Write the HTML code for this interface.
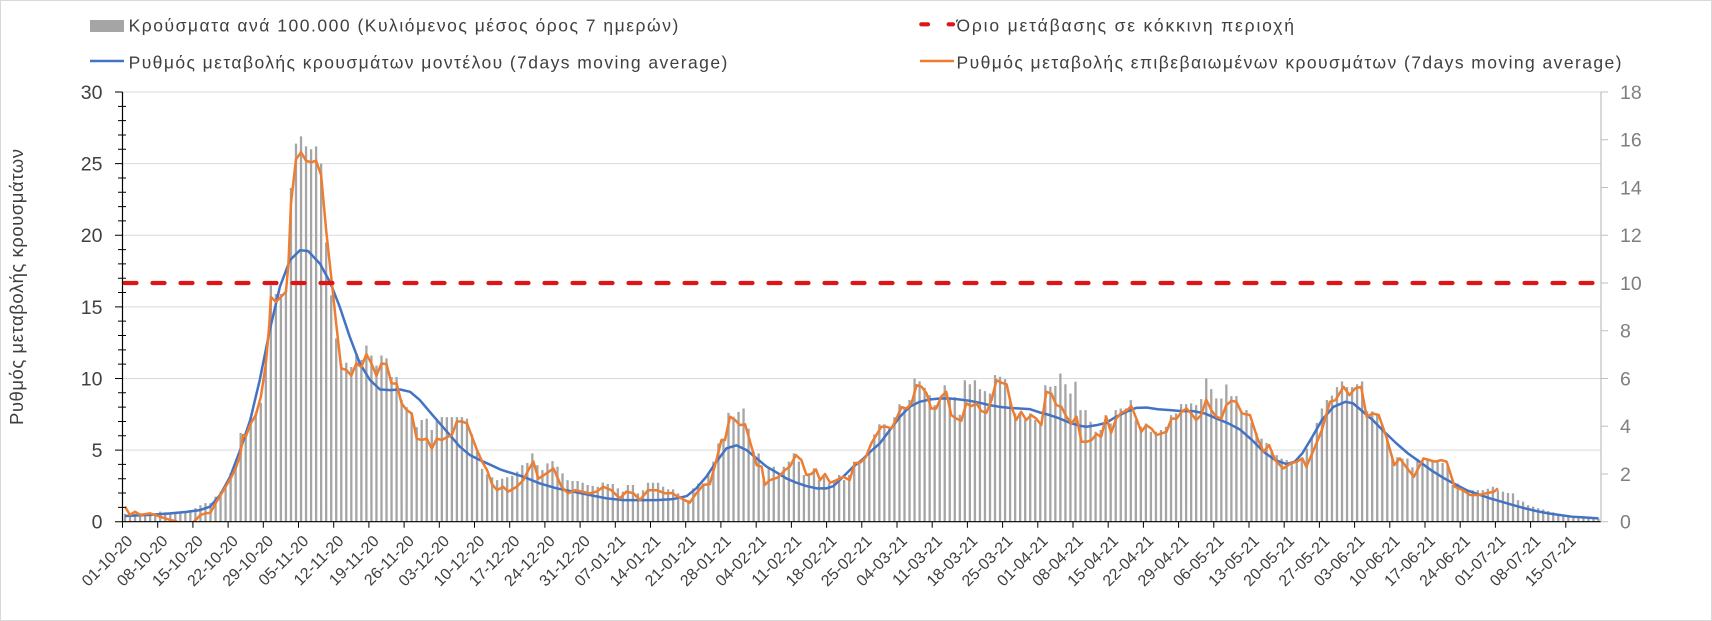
<!DOCTYPE html>
<html><head><meta charset="utf-8"><style>
html,body{margin:0;padding:0;background:#fff;}
svg{display:block;}
text{font-family:"Liberation Sans","DejaVu Sans",sans-serif;}
</style></head><body>
<svg width="1712" height="621" viewBox="0 0 1712 621" xmlns="http://www.w3.org/2000/svg">
<rect x="0.5" y="0.5" width="1711" height="620" fill="#fff" stroke="#d9d9d9" stroke-width="1"/>
<defs><clipPath id="pc"><rect x="122.5" y="88" width="1479" height="433.7"/></clipPath></defs>

<!-- gridlines -->
<g stroke="#d9d9d9" stroke-width="1">
<line x1="122.5" x2="1601" y1="450.1" y2="450.1"/>
<line x1="122.5" x2="1601" y1="378.5" y2="378.5"/>
<line x1="122.5" x2="1601" y1="306.9" y2="306.9"/>
<line x1="122.5" x2="1601" y1="235.2" y2="235.2"/>
<line x1="122.5" x2="1601" y1="163.6" y2="163.6"/>
<line x1="122.5" x2="1601" y1="92" y2="92"/>
</g>

<g clip-path="url(#pc)">
<g transform="translate(125 521.7) scale(5.029 -14.323)">
<path fill="none" stroke="#a5a5a5" stroke-width="2.3" vector-effect="non-scaling-stroke" d="M0 0V.55M1 0V.5M2 0V.55M3 0V.6M4 0V.6M5 0V.65M6 0V.6M7 0V.7M8 0V.65M9 0V.6M10 0V.65M11 0V.7M12 0V.75M13 0V.8M14 0V.95M15 0V1.15M16 0V1.3M17 0V1.3M18 0V1.75M19 0V2.1M20 0V2.6M21 0V3.4M22 0V3.9M23 0V6.2M24 0V6.1M25 0V7.2M26 0V7.6M27 0V8.3M28 0V11.5M29 0V16.5M30 0V15.9M31 0V15.9M32 0V16.2M33 0V23.3M34 0V26.4M35 0V26.9M36 0V26.2M37 0V26M38 0V26.2M39 0V25M40 0V19.5M41 0V15.8M42 0V12.8M43 0V11M44 0V11.1M45 0V10.8M46 0V11.6M47 0V11.3M48 0V12.3M49 0V11.6M50 0V10.9M51 0V11.6M52 0V11.4M53 0V10.1M54 0V10.1M55 0V8.5M56 0V8M57 0V7.6M58 0V6.6M59 0V7.1M60 0V7.2M61 0V6.4M62 0V7.1M63 0V7.3M64 0V7.3M65 0V7.3M66 0V7.3M67 0V7.3M68 0V7.2M69 0V6.1M70 0V5M71 0V3.7M72 0V3.3M73 0V3.1M74 0V2.9M75 0V3M76 0V3.1M77 0V3.2M78 0V3.5M79 0V3.95M80 0V4.1M81 0V4.77M82 0V3.95M83 0V3.6M84 0V4.07M85 0V4.23M86 0V3.84M87 0V3.37M88 0V2.9M89 0V2.84M90 0V2.84M91 0V2.72M92 0V2.56M93 0V2.49M94 0V2.44M95 0V2.74M96 0V2.63M97 0V2.63M98 0V2.33M99 0V2.1M100 0V2.56M101 0V2.56M102 0V1.98M103 0V2.2M104 0V2.72M105 0V2.72M106 0V2.72M107 0V2.44M108 0V2.26M109 0V2.26M110 0V1.98M111 0V1.5M112 0V1.5M113 0V2.33M114 0V2.67M115 0V2.67M116 0V3.37M117 0V4.19M118 0V5.47M119 0V5.81M120 0V7.6M121 0V7.33M122 0V7.67M123 0V7.9M124 0V6.5M125 0V4.88M126 0V4.77M127 0V3.14M128 0V3.72M129 0V3.84M130 0V3.37M131 0V3.84M132 0V4.19M133 0V4.77M134 0V4.19M135 0V3.26M136 0V3.26M137 0V3.72M138 0V2.9M139 0V3.14M140 0V2.67M141 0V2.9M142 0V3.26M143 0V2.9M144 0V3.26M145 0V4.19M146 0V4.19M147 0V4.42M148 0V4.77M149 0V6.1M150 0V6.8M151 0V6.8M152 0V6.6M153 0V7.3M154 0V8.2M155 0V8M156 0V8.5M157 0V10M158 0V9.8M159 0V9.35M160 0V8.84M161 0V8.14M162 0V8.6M163 0V9.53M164 0V8.6M165 0V8.7M166 0V7.47M167 0V9.88M168 0V9.6M169 0V9.88M170 0V9.26M171 0V9.12M172 0V8.95M173 0V10.23M174 0V10.12M175 0V9.95M176 0V8.6M177 0V7.56M178 0V7.56M179 0V7.1M180 0V7.56M181 0V7.1M182 0V6.74M183 0V9.53M184 0V9.42M185 0V9.47M186 0V10.35M187 0V9.6M188 0V8.95M189 0V9.77M190 0V7.79M191 0V7.79M192 0V6.98M193 0V6.28M194 0V6.4M195 0V7.44M196 0V6.86M197 0V7.79M198 0V7.9M199 0V7.9M200 0V8.49M201 0V7.09M202 0V6.63M203 0V6.86M204 0V6.28M205 0V6.28M206 0V6.4M207 0V6.63M208 0V7.44M209 0V7.56M210 0V8.21M211 0V8.21M212 0V8.26M213 0V8.14M214 0V8.56M215 0V10M216 0V9.26M217 0V8.6M218 0V8.6M219 0V9.58M220 0V8.77M221 0V8.77M222 0V7.7M223 0V7.8M224 0V6.9M225 0V6.2M226 0V5.8M227 0V5.5M228 0V5M229 0V4.65M230 0V4.4M231 0V4.3M232 0V4.2M233 0V4.25M234 0V4.3M235 0V5.1M236 0V5.9M237 0V6.9M238 0V7.9M239 0V8.5M240 0V8.8M241 0V9.4M242 0V9.8M243 0V9.4M244 0V9.4M245 0V9.6M246 0V9.8M247 0V7.7M248 0V7.7M249 0V7.56M250 0V6.8M251 0V5.8M252 0V4.5M253 0V4.5M254 0V4.4M255 0V4.4M256 0V3.8M257 0V4.4M258 0V4.3M259 0V4.3M260 0V4.25M261 0V4.2M262 0V4.1M263 0V3.95M264 0V2.56M265 0V2.67M266 0V2.33M267 0V2.2M268 0V2.2M269 0V2.2M270 0V2.2M271 0V2.3M272 0V2.44M273 0V2.2M274 0V2.1M275 0V2M276 0V1.98M277 0V1.51M278 0V1.4M279 0V1.16M280 0V1.05M281 0V.95M282 0V.85M283 0V.75M284 0V.65M285 0V.55M286 0V.5M287 0V.45M288 0V.4M289 0V.35M290 0V.3M291 0V.28M292 0V.25M293 0V.22"/>
<polyline fill="none" stroke="#4472c4" stroke-width="2.5" stroke-linejoin="round" vector-effect="non-scaling-stroke" points="0,0.4 5,0.48 9,0.58 12,0.68 14.9,0.81 16.9,1.05 18.9,1.86 20.9,3.14 22.9,5.0 24.9,7.1 26.8,9.9 28.8,13.4 30.8,16.4 32.8,18.26 34.8,18.95 36.4,18.9 38.8,18.0 40.8,16.7 42.7,15.0 44.7,12.9 46.7,11.05 48.7,9.9 50.7,9.23 52.7,9.19 54.7,9.23 56.7,9.07 58.6,8.5 60.6,7.67 62.6,6.86 64.6,6.05 66.6,5.23 68.6,4.65 70.6,4.3 72.6,3.98 74.6,3.65 75.9,3.5 79.2,3.14 82.5,2.67 85.8,2.33 89.1,2.1 92.4,1.86 95.8,1.63 99.1,1.51 102.4,1.51 105.7,1.51 109,1.58 111.7,1.79 113.6,2.33 115.6,3.14 117.6,4.19 119.6,5.12 121.6,5.33 123.6,5.0 125.6,4.42 127.6,3.84 129.9,3.37 131.5,3.02 133.5,2.72 135.5,2.49 137.5,2.33 139.5,2.33 140.9,2.49 142.8,3.14 144.8,3.84 146.5,4.3 148.1,4.85 150.1,5.47 152.1,6.4 154.1,7.33 156,8.02 158,8.37 160,8.53 162,8.6 164,8.6 166,8.53 168,8.44 170,8.3 171.9,8.14 173.9,8.02 175.9,7.95 177.9,7.9 179.9,7.86 181.9,7.63 183.9,7.44 185.9,7.2 187.9,6.9 189.8,6.7 191.2,6.63 193.2,6.74 195.1,6.9 197.1,7.33 199.1,7.67 201.1,7.95 203.1,7.97 205.4,7.85 207.8,7.79 210.1,7.72 212.4,7.72 214.7,7.56 217.1,7.2 219.4,6.86 221.7,6.44 224.1,5.7 226.4,4.88 228.7,4.3 231,4.02 232.6,4.19 234.1,4.77 236.1,5.93 238,7.1 240.3,8.02 242.7,8.37 244.2,8.26 245.8,7.79 248.1,7.1 250.4,6.28 252.8,5.47 255.1,4.77 257.4,4.19 259.7,3.6 262.1,3.07 264.4,2.63 266.7,2.21 269.1,1.91 271.4,1.63 273.7,1.4 276,1.16 278.4,0.93 280.7,0.74 283,0.58 285.3,0.47 287.7,0.35 290,0.3 293,0.23"/>
<polyline fill="none" stroke="#ed7d31" stroke-width="2.5" stroke-linejoin="round" vector-effect="non-scaling-stroke" points="0,1.05 1,0.47 2,0.7 3,0.47 4,0.53 5,0.58 6,0.47 7,0.35 8,0.23 9,0.12 10,0.05 11,-0.1 12,-0.2 13,-0.2 14,0.1 15,0.47 16,0.58 17,0.63 18,1.28 19,1.86 20,2.44 21,3.02 22,3.72 22.9,4.65 23.5,6.05 24,5.93 25,6.86 26,7.44 27,8.7 28,11.0 28.7,13.8 29,15.7 30,15.35 31,15.7 32,16.05 32.5,18 33,22.2 34,25.3 35,25.8 36,25.2 37,25.1 38,25.2 39,24.2 40,20.35 41,17.1 42,13.8 43,10.7 44,10.6 45,10.2 46,11.05 47,10.8 48,11.7 49,11.05 50,10.2 51,11.05 52,11.0 53,9.65 54,9.65 55,8.26 56,7.8 57,7.56 58,5.8 59,5.7 60,5.8 61,5.1 62,5.8 63,5.7 64,5.9 65,6.05 66,7.0 67,7.0 68,6.86 69,5.93 70,5.0 71,4.2 72,3.6 73,2.6 74,2.2 75.2,2.44 76.2,2.1 77.9,2.44 79.2,2.9 80.2,3.6 81.2,4.2 82.2,3.0 83.8,3.37 85.2,3.72 86.8,2.44 88.1,1.98 89.5,2.2 90.8,2.1 92.4,1.98 93.8,2.1 95.1,2.44 96.7,2.2 98.4,1.63 99.7,2.1 101.1,1.98 102.4,1.51 104,2.2 105.7,2.2 107.4,1.98 108.7,2.0 110,1.74 111.3,1.51 112.3,1.33 113.6,1.98 115,2.56 116.3,2.63 117.6,4.3 118.6,5.7 119.3,5.7 120.3,7.33 121.3,7.1 122.3,6.74 123.3,6.8 124.2,5.7 125.6,3.95 126.6,3.84 127.2,2.56 128.2,2.9 129.9,3.1 131.2,3.6 132.2,3.84 133.4,4.65 134.5,4.3 135.5,3.26 136.5,3.33 137.4,3.65 138.2,2.9 139.2,3.33 140.2,2.72 141.5,2.9 142.8,3.14 144.1,2.9 145.1,4.07 146.3,4.15 147.3,4.5 148.4,5.47 149.4,6.05 150.4,6.63 151.4,6.63 152.4,6.5 153.4,7.2 154.4,8.0 155.4,7.9 156.4,8.26 157.4,9.53 158.4,9.42 159.4,8.95 160.3,7.9 161.3,7.9 162.3,8.72 163.3,9.07 164.3,7.44 165.3,7.2 166.3,7.05 167.3,8.26 168.3,8.07 169.3,8.26 170.3,7.72 171.3,7.6 172.3,8.49 173.3,9.88 174.3,9.7 175.3,9.6 176.3,8.02 177.2,7.1 178.2,7.67 179.2,7.1 180.2,7.44 181.2,7.2 182.2,6.74 183.2,9.07 184.2,8.95 185.2,8.14 186.2,8.02 187.2,7.33 188.2,6.86 189.2,7.33 190.2,5.58 191.2,5.58 192.2,5.7 193.2,6.12 194.1,5.93 195.1,7.33 196.1,6.2 197.1,7.2 198.1,7.6 199.1,7.74 200.1,8.07 201.1,7.2 202.1,6.28 203.1,6.74 204.1,6.5 205.1,6.05 206.1,6.16 207.1,6.28 208.1,7.2 209.1,7.2 210.1,7.67 211.1,7.9 212,7.56 213,7.1 214,7.44 215,8.53 216,7.79 217,7.33 218,7.2 219,8.14 220,8.44 221,8.37 222.1,7.56 223.7,7.44 225.2,5.81 226.4,4.88 227.5,5.35 228.7,4.3 230.3,3.72 231.8,4.07 233,4.19 234.1,4.42 234.9,3.84 236.5,5.12 238,6.4 239.6,8.37 240.7,8.49 242.3,9.42 243.5,8.84 244.6,9.3 245.8,9.42 246.9,7.33 248.1,7.56 249.3,7.44 250.8,5.93 252.4,3.95 253.5,4.42 254.7,3.84 256.3,3.14 258.2,4.42 259.4,4.3 260.5,4.19 261.7,4.3 262.8,4.19 264.4,2.44 266,2.21 267.5,1.86 269.1,1.86 270.6,1.98 272.2,2.09 273,2.33"/>
</g>
</g>

<!-- red threshold -->
<line x1="124.5" x2="1597" y1="283" y2="283" stroke="#dd1515" stroke-width="4.2" stroke-dasharray="12 16" stroke-linecap="round"/>

<!-- axes -->
<line x1="122.5" x2="1601" y1="521.7" y2="521.7" stroke="#000" stroke-width="1.2"/>
<line x1="122.5" x2="122.5" y1="92" y2="521.7" stroke="#000" stroke-width="1.2"/>
<line x1="1601" x2="1601" y1="92" y2="521.7" stroke="#bfbfbf" stroke-width="1.2"/>
<g transform="translate(0 521.7) scale(1 -14.323)">
<path fill="none" stroke="#000" stroke-width="1" vector-effect="non-scaling-stroke" d="M118 1H126M118 2H126M118 3H126M118 4H126M118 6H126M118 7H126M118 8H126M118 9H126M118 11H126M118 12H126M118 13H126M118 14H126M118 16H126M118 17H126M118 18H126M118 19H126M118 21H126M118 22H126M118 23H126M118 24H126M118 26H126M118 27H126M118 28H126M118 29H126M115 0H122.5M115 5H122.5M115 10H122.5M115 15H122.5M115 20H122.5M115 25H122.5M115 30H122.5"/>
</g>
<g transform="translate(0 521.7) scale(1 -23.872)">
<path fill="none" stroke="#bfbfbf" stroke-width="1" vector-effect="non-scaling-stroke" d="M1601 0H1608M1601 2H1608M1601 4H1608M1601 6H1608M1601 8H1608M1601 10H1608M1601 12H1608M1601 14H1608M1601 16H1608M1601 18H1608"/>
</g>
<path fill="none" stroke="#000" stroke-width="1" d="M122.5 521.7v6M157.7 521.7v6M192.9 521.7v6M228.1 521.7v6M263.3 521.7v6M298.5 521.7v6M333.7 521.7v6M368.9 521.7v6M404.1 521.7v6M439.3 521.7v6M474.5 521.7v6M509.7 521.7v6M544.9 521.7v6M580.1 521.7v6M615.3 521.7v6M650.5 521.7v6M685.7 521.7v6M720.9 521.7v6M756.2 521.7v6M791.4 521.7v6M826.6 521.7v6M861.8 521.7v6M897 521.7v6M932.2 521.7v6M967.4 521.7v6M1002.6 521.7v6M1037.8 521.7v6M1073 521.7v6M1108.2 521.7v6M1143.4 521.7v6M1178.6 521.7v6M1213.8 521.7v6M1249 521.7v6M1284.2 521.7v6M1319.4 521.7v6M1354.6 521.7v6M1389.8 521.7v6M1425 521.7v6M1460.2 521.7v6M1495.4 521.7v6M1530.6 521.7v6M1565.8 521.7v6"/>

<!-- left axis labels -->
<g font-size="19.5" fill="#404040" text-anchor="end">
<text x="102.5" y="528.7">0</text>
<text x="102.5" y="457.1">5</text>
<text x="102.5" y="385.5">10</text>
<text x="102.5" y="313.9">15</text>
<text x="102.5" y="242.2">20</text>
<text x="102.5" y="170.6">25</text>
<text x="102.5" y="99">30</text>
</g>
<!-- right axis labels -->
<g font-size="19.5" fill="#7f7f7f">
<text x="1620" y="528.7">0</text>
<text x="1620" y="481">2</text>
<text x="1620" y="433.2">4</text>
<text x="1620" y="385.5">6</text>
<text x="1620" y="337.7">8</text>
<text x="1620" y="290">10</text>
<text x="1620" y="242.2">12</text>
<text x="1620" y="194.5">14</text>
<text x="1620" y="146.7">16</text>
<text x="1620" y="99">18</text>
</g>

<!-- y axis title -->
<text transform="translate(23 425) rotate(-90)" font-size="18.5" fill="#404040" textLength="276">Ρυθμός μεταβολής κρουσμάτων</text>

<!-- x labels -->
<g font-size="16" fill="#404040" text-anchor="end">
<text transform="translate(133.5 542) rotate(-45)">01-10-20</text>
<text transform="translate(168.7 542) rotate(-45)">08-10-20</text>
<text transform="translate(203.9 542) rotate(-45)">15-10-20</text>
<text transform="translate(239.1 542) rotate(-45)">22-10-20</text>
<text transform="translate(274.3 542) rotate(-45)">29-10-20</text>
<text transform="translate(309.5 542) rotate(-45)">05-11-20</text>
<text transform="translate(344.7 542) rotate(-45)">12-11-20</text>
<text transform="translate(379.9 542) rotate(-45)">19-11-20</text>
<text transform="translate(415.1 542) rotate(-45)">26-11-20</text>
<text transform="translate(450.3 542) rotate(-45)">03-12-20</text>
<text transform="translate(485.5 542) rotate(-45)">10-12-20</text>
<text transform="translate(520.7 542) rotate(-45)">17-12-20</text>
<text transform="translate(555.9 542) rotate(-45)">24-12-20</text>
<text transform="translate(591.1 542) rotate(-45)">31-12-20</text>
<text transform="translate(626.3 542) rotate(-45)">07-01-21</text>
<text transform="translate(661.5 542) rotate(-45)">14-01-21</text>
<text transform="translate(696.7 542) rotate(-45)">21-01-21</text>
<text transform="translate(731.9 542) rotate(-45)">28-01-21</text>
<text transform="translate(767.2 542) rotate(-45)">04-02-21</text>
<text transform="translate(802.4 542) rotate(-45)">11-02-21</text>
<text transform="translate(837.6 542) rotate(-45)">18-02-21</text>
<text transform="translate(872.8 542) rotate(-45)">25-02-21</text>
<text transform="translate(908 542) rotate(-45)">04-03-21</text>
<text transform="translate(943.2 542) rotate(-45)">11-03-21</text>
<text transform="translate(978.4 542) rotate(-45)">18-03-21</text>
<text transform="translate(1013.6 542) rotate(-45)">25-03-21</text>
<text transform="translate(1048.8 542) rotate(-45)">01-04-21</text>
<text transform="translate(1084 542) rotate(-45)">08-04-21</text>
<text transform="translate(1119.2 542) rotate(-45)">15-04-21</text>
<text transform="translate(1154.4 542) rotate(-45)">22-04-21</text>
<text transform="translate(1189.6 542) rotate(-45)">29-04-21</text>
<text transform="translate(1224.8 542) rotate(-45)">06-05-21</text>
<text transform="translate(1260 542) rotate(-45)">13-05-21</text>
<text transform="translate(1295.2 542) rotate(-45)">20-05-21</text>
<text transform="translate(1330.4 542) rotate(-45)">27-05-21</text>
<text transform="translate(1365.6 542) rotate(-45)">03-06-21</text>
<text transform="translate(1400.8 542) rotate(-45)">10-06-21</text>
<text transform="translate(1436 542) rotate(-45)">17-06-21</text>
<text transform="translate(1471.2 542) rotate(-45)">24-06-21</text>
<text transform="translate(1506.4 542) rotate(-45)">01-07-21</text>
<text transform="translate(1541.6 542) rotate(-45)">08-07-21</text>
<text transform="translate(1576.8 542) rotate(-45)">15-07-21</text>
</g>

<!-- legend -->
<rect x="90" y="20" width="34" height="12" fill="#a5a5a5"/>
<line x1="90" x2="124" y1="61" y2="61" stroke="#4472c4" stroke-width="2.5"/>
<line x1="921.3" x2="928" y1="24.3" y2="24.3" stroke="#dd1515" stroke-width="4.2" stroke-linecap="round"/>
<line x1="948.7" x2="953" y1="24.3" y2="24.3" stroke="#dd1515" stroke-width="4.2" stroke-linecap="round"/>
<line x1="920" x2="954" y1="61" y2="61" stroke="#ed7d31" stroke-width="2.5"/>
<g font-size="17.5" fill="#404040">
<text x="128.6" y="31.7" textLength="549.7">Κρούσματα ανά 100.000 (Κυλιόμενος μέσος όρος 7 ημερών)</text>
<text x="128.6" y="68.3" textLength="598.7">Ρυθμός μεταβολής κρουσμάτων μοντέλου (7days moving average)</text>
<text x="956.5" y="31.7" textLength="337.5">Όριο μετάβασης σε κόκκινη περιοχή</text>
<text x="956.5" y="68.3" textLength="665">Ρυθμός μεταβολής επιβεβαιωμένων κρουσμάτων (7days moving average)</text>
</g>
</svg>
</body></html>
